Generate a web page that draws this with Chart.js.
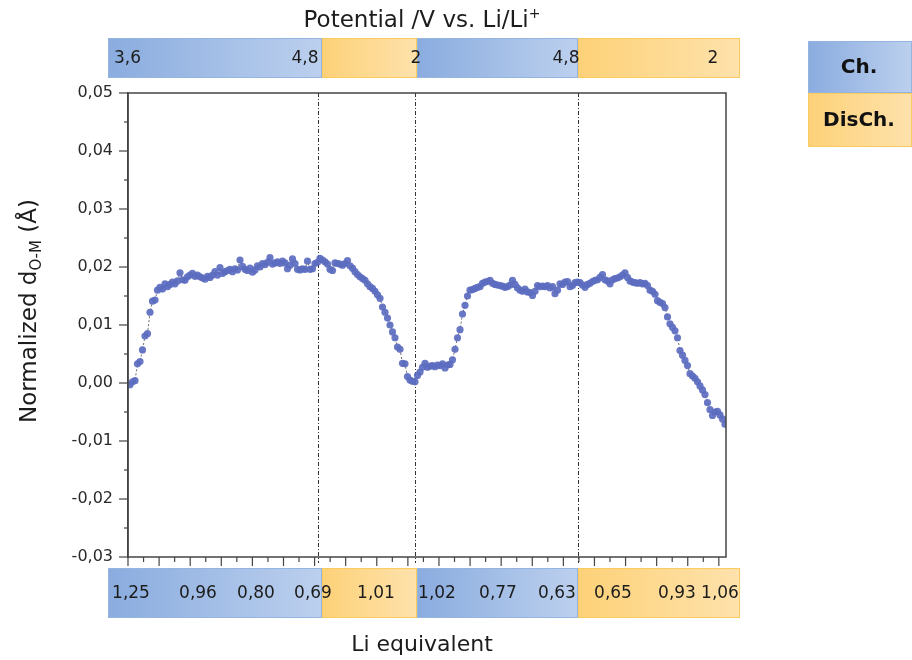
<!DOCTYPE html>
<html>
<head>
<meta charset="utf-8">
<script src="https://cdn.jsdelivr.net/npm/chart.js@4.4.1/dist/chart.umd.min.js"></script>
<style>
  html, body { margin: 0; padding: 0; background: #fff; }
</style>
</head>
<body>
<canvas id="chart" width="912" height="660"></canvas>
<script>
// normalized O-M distance per scan, split by half-cycle
const charge1 = [
  -0.0003, 0.0002, 0.0004, 0.0033, 0.0037, 0.0057, 0.0081, 0.0085, 0.0122, 0.0141,
  0.0143, 0.0160, 0.0165, 0.0162, 0.0171, 0.0166, 0.0170, 0.0174, 0.0171, 0.0176,
  0.0190, 0.0178, 0.0177, 0.0183, 0.0186, 0.0189, 0.0184, 0.0186, 0.0183, 0.0181,
  0.0179, 0.0184, 0.0182, 0.0186, 0.0192, 0.0186, 0.0199, 0.0189, 0.0192, 0.0194,
  0.0196, 0.0192, 0.0197, 0.0195, 0.0212, 0.0201, 0.0196, 0.0194, 0.0198, 0.0191,
  0.0195, 0.0202, 0.0200, 0.0206, 0.0204, 0.0208, 0.0216, 0.0205, 0.0207, 0.0209,
  0.0206, 0.0210, 0.0207, 0.0197, 0.0203, 0.0214, 0.0206, 0.0196, 0.0195, 0.0197,
  0.0196, 0.0210, 0.0196, 0.0197, 0.0206, 0.0208
];
const discharge1 = [
  0.0215, 0.0212, 0.0209, 0.0205, 0.0196, 0.0194, 0.0207, 0.0206, 0.0205, 0.0203,
  0.0206, 0.0211, 0.0202, 0.0198, 0.0192, 0.0187, 0.0183, 0.0180, 0.0177, 0.0171,
  0.0166, 0.0163, 0.0158, 0.0152, 0.0146, 0.0131, 0.0122, 0.0112, 0.0100, 0.0088,
  0.0078, 0.0062, 0.0058, 0.0034, 0.0033, 0.0011, 0.0005, 0.0003, 0.0002
];
const charge2 = [
  0.0013, 0.0019, 0.0027, 0.0034, 0.0027, 0.0029, 0.0030, 0.0028, 0.0031, 0.0030,
  0.0033, 0.0026, 0.0031, 0.0032, 0.0040, 0.0058, 0.0078, 0.0092, 0.0119, 0.0134,
  0.0150, 0.0160, 0.0161, 0.0163, 0.0165, 0.0166, 0.0172, 0.0174, 0.0175, 0.0177,
  0.0172, 0.0170, 0.0169, 0.0168, 0.0167, 0.0165, 0.0166, 0.0169, 0.0177, 0.0170,
  0.0164, 0.0160, 0.0158, 0.0162, 0.0157, 0.0156, 0.0151, 0.0158, 0.0168, 0.0166,
  0.0167, 0.0166, 0.0168, 0.0164, 0.0166, 0.0154, 0.0160, 0.0171, 0.0170, 0.0174,
  0.0175, 0.0166, 0.0168, 0.0173, 0.0174
];
const discharge2 = [
  0.0173, 0.0169, 0.0165, 0.0170, 0.0172, 0.0175, 0.0177, 0.0178, 0.0182, 0.0187,
  0.0178, 0.0176, 0.0171, 0.0178, 0.0180, 0.0181, 0.0183, 0.0186, 0.0190, 0.0182,
  0.0176, 0.0174, 0.0173, 0.0172, 0.0173, 0.0171, 0.0172, 0.0168, 0.0160, 0.0158,
  0.0153, 0.0142, 0.0139, 0.0137, 0.0130, 0.0114, 0.0102, 0.0096, 0.0090, 0.0078,
  0.0056, 0.0048, 0.0039, 0.0030, 0.0016, 0.0012, 0.0008, 0.0002, -0.0005, -0.0012,
  -0.0020, -0.0034, -0.0046, -0.0056, -0.0050, -0.0049, -0.0055, -0.0062, -0.0071
];

// top strip: cell potentials (V vs Li/Li+), positions in scan index
const potentialLabels = ['3,6', '4,8', '2', '4,8', '2'];
const potentialAt = [-1.0, 70, 114.4, 174.4, 233.2];

// bottom strip: Li equivalent
const liLabels = ['1,25', '0,96', '0,80', '0,69', '1,01', '1,02', '0,77', '0,63', '0,65', '0,93', '1,06'];
const liAt = [0.4, 27.2, 50.4, 73.2, 98.4, 122.8, 147.2, 170.8, 193.2, 218.8, 236];

// strip cells (scan index edges) and their half-cycle type
const stripEdges = [-8.8, 76.8, 114.8, 179.2, 244];
const stripKinds = ['ch', 'dis', 'ch', 'dis'];

const segments = [charge1, discharge1, charge2, discharge2];
const values = [].concat(...segments);
const points = values.map((v, i) => ({ x: i, y: v }));

// dividers sit between the last scan of one half-cycle and the first of the next
const dividers = [];
let n = 0;
segments.slice(0, -1).forEach(s => { n += s.length; dividers.push(n - 0.5); });

const FONT = '"DejaVu Sans", "Noto Sans", sans-serif';
const INK = '#1c1c1c';
const palette = {
  ch:  { from: 'rgb(138,172,223)', to: 'rgb(188,208,238)', edge: 'rgb(150,180,224)', label: 'Ch.' },
  dis: { from: 'rgb(253,209,120)', to: 'rgb(254,226,172)', edge: 'rgb(250,203,95)', label: 'DisCh.' }
};

function fillCell(ctx, x0, x1, y0, y1, kind) {
  const c = palette[kind];
  const g = ctx.createLinearGradient(x0, 0, x1, 0);
  g.addColorStop(0, c.from);
  g.addColorStop(1, c.to);
  ctx.fillStyle = g;
  ctx.fillRect(x0, y0, x1 - x0, y1 - y0);
  ctx.strokeStyle = c.edge;
  ctx.lineWidth = 1;
  ctx.strokeRect(x0 + 0.5, y0 + 0.5, x1 - x0 - 1, y1 - y0 - 1);
}

function strip(ctx, xs, y0, y1, labels, at) {
  for (let i = 0; i < stripKinds.length; i++) {
    fillCell(ctx, xs.getPixelForValue(stripEdges[i]), xs.getPixelForValue(stripEdges[i + 1]), y0, y1, stripKinds[i]);
  }
  ctx.fillStyle = INK;
  ctx.font = '17px ' + FONT;
  ctx.textAlign = 'center';
  ctx.textBaseline = 'middle';
  labels.forEach((t, i) => ctx.fillText(t, xs.getPixelForValue(at[i]), (y0 + y1) / 2 + 1));
}

// text run with a raised or lowered small part, centred on x
function richText(ctx, parts, x, y) {
  const widths = parts.map(p => { ctx.font = p.size + 'px ' + FONT; return ctx.measureText(p.text).width; });
  let tx = x - widths.reduce((s, w) => s + w, 0) / 2;
  ctx.textAlign = 'left';
  parts.forEach((p, i) => {
    ctx.font = p.size + 'px ' + FONT;
    ctx.fillText(p.text, tx, y + (p.dy || 0));
    tx += widths[i];
  });
}

const decorations = {
  id: 'decorations',
  beforeDatasetsDraw(chart) {
    const { ctx, chartArea: a, scales } = chart;
    ctx.save();
    ctx.strokeStyle = '#333';
    ctx.lineWidth = 1;
    ctx.setLineDash([4, 2, 1, 2]);
    dividers.forEach(d => {
      const x = Math.round(scales.x.getPixelForValue(d)) - 0.5;
      ctx.beginPath();
      ctx.moveTo(x, a.top);
      ctx.lineTo(x, a.bottom + 6);
      ctx.stroke();
    });
    ctx.restore();
  },
  afterDraw(chart) {
    const { ctx, chartArea: a, scales } = chart;
    const xs = scales.x, ys = scales.y, xt = scales.xt;
    ctx.save();

    // frame
    ctx.strokeStyle = '#444';
    ctx.lineWidth = 1.5;
    ctx.strokeRect(a.left, a.top, a.right - a.left, a.bottom - a.top);

    // y tick marks, long on every 0,01
    ctx.lineWidth = 1.2;
    ys.ticks.forEach(t => {
      const y = ys.getPixelForValue(t.value);
      const major = Math.round(t.value * 1000) % 10 === 0;
      ctx.beginPath();
      ctx.moveTo(a.left - (major ? 9 : 4), y);
      ctx.lineTo(a.left, y);
      ctx.stroke();
    });

    // x tick marks
    for (let v = 0; v <= xt.max; v += 0.5) {
      const x = xt.getPixelForValue(v);
      const major = v % 1 === 0;
      ctx.beginPath();
      ctx.moveTo(x, a.bottom);
      ctx.lineTo(x, a.bottom + (major ? 9 : 5));
      ctx.stroke();
    }

    // potential and Li equivalent strips
    strip(ctx, xs, a.top - 55, a.top - 15, potentialLabels, potentialAt);
    strip(ctx, xs, a.bottom + 11, a.bottom + 61, liLabels, liAt);

    const midX = (xs.getPixelForValue(stripEdges[0]) + xs.getPixelForValue(stripEdges[4])) / 2;
    ctx.fillStyle = INK;
    ctx.textBaseline = 'middle';
    richText(ctx, [{ text: 'Potential /V vs. Li/Li', size: 23 }, { text: '+', size: 14, dy: -7 }], midX - 2, a.top - 72);

    ctx.textAlign = 'center';
    ctx.font = '22px ' + FONT;
    ctx.fillText('Li equivalent', midX - 2, a.bottom + 88);

    // y title with subscript
    ctx.save();
    ctx.translate(30, (a.top + a.bottom) / 2 - 14);
    ctx.rotate(-Math.PI / 2);
    richText(ctx, [
      { text: 'Normalized d', size: 23 },
      { text: 'O-M', size: 15, dy: 7 },
      { text: ' (Å)', size: 23 }
    ], 0, 0);
    ctx.restore();

    // key boxes
    const kx = a.right + 82, kw = 104;
    [['ch', 41, 52], ['dis', 93, 54]].forEach(([k, y, h]) => {
      fillCell(ctx, kx, kx + kw, y, y + h, k);
      ctx.fillStyle = '#111';
      ctx.font = 'bold 20px ' + FONT;
      ctx.textAlign = 'center';
      ctx.fillText(palette[k].label, kx + 51, y + h / 2 + 1);
    });

    ctx.restore();
  }
};

new Chart(document.getElementById('chart'), {
  type: 'line',
  data: {
    datasets: [{
      data: points,
      showLine: true,
      borderColor: 'rgba(80,80,80,0.85)',
      borderWidth: 1,
      borderDash: [2, 2],
      pointRadius: 3.6,
      pointBorderWidth: 0,
      pointBackgroundColor: 'rgba(92,108,192,0.92)',
      tension: 0
    }]
  },
  options: {
    responsive: false,
    animation: false,
    layout: { padding: { left: 0, right: 186, top: 93, bottom: 103 } },
    plugins: { legend: { display: false }, tooltip: { enabled: false } },
    scales: {
      x: { type: 'linear', min: -0.8, max: 238.4, display: false },
      xt: { type: 'linear', axis: 'x', position: 'bottom', min: 0, max: 19.23, display: false },
      y: {
        min: -0.03,
        max: 0.05,
        afterFit(scale) { scale.width = 128; },
        border: { display: true, color: '#444', width: 1.5 },
        grid: { drawOnChartArea: false, drawTicks: false },
        ticks: {
          stepSize: 0.005,
          padding: 15,
          color: '#2a2a2a',
          font: { family: FONT, size: 16 },
          callback: v => Math.round(v * 1000) % 10 === 0 ? v.toFixed(2).replace('.', ',') : ''
        }
      }
    }
  },
  plugins: [decorations]
});
</script>
</body>
</html>
